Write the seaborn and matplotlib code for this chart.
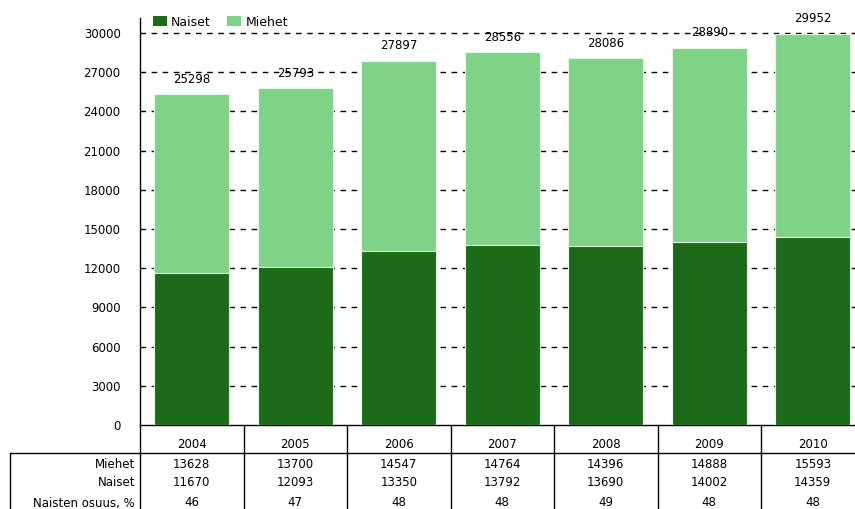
import matplotlib
matplotlib.use("Agg")
import matplotlib.pyplot as plt
import matplotlib.transforms as mtrans
from matplotlib.lines import Line2D
from matplotlib.patches import Patch
import seaborn as sns
import pandas as pd

years = ["2004", "2005", "2006", "2007", "2008", "2009", "2010"]
miehet = [13628, 13700, 14547, 14764, 14396, 14888, 15593]
naiset = [11670, 12093, 13350, 13792, 13690, 14002, 14359]
osuus = [46, 47, 48, 48, 49, 48, 48]
yticks = [0, 3000, 6000, 9000, 12000, 15000, 18000, 21000, 24000, 27000, 30000]

df = pd.DataFrame({"year": years, "Naiset": naiset, "Miehet": miehet})
df["total"] = df["Naiset"] + df["Miehet"]

DARK = "#1b6b18"
LIGHT = "#7fd386"

sns.set_style("white")
plt.rcParams["font.family"] = ["DejaVu Sans"]
plt.rcParams["text.color"] = "black"
plt.rcParams["ytick.color"] = "black"
plt.rcParams["xtick.color"] = "black"
plt.rcParams["axes.labelcolor"] = "black"
FS = 8.5

W, H = 855, 509
fig = plt.figure(figsize=(W / 100, H / 100), dpi=100)
fig.patch.set_facecolor("white")
left, right, top, bottom = 140, 864.5, 18, 425
ax = fig.add_axes([left / W, 1 - bottom / H, (right - left) / W, (bottom - top) / H])
ax.set_facecolor("white")

sns.barplot(data=df, x="year", y="total", color=LIGHT, width=0.725, ax=ax,
            saturation=1, edgecolor="#eaf7ea", linewidth=0.8, zorder=3)
sns.barplot(data=df, x="year", y="Naiset", color=DARK, width=0.725, ax=ax,
            saturation=1, edgecolor="#eaf7ea", linewidth=0.8, zorder=3)

ax.set_xlim(-0.5, len(years) - 0.5)
ax.set_ylim(0, 31150)
ax.set_yticks(yticks)
ax.set_yticklabels([str(v) for v in yticks], fontsize=FS, color="black")
ax.set_xticks([])
ax.set_xlabel("")
ax.set_ylabel("")
ax.tick_params(axis="y", length=0, pad=14)
for y in yticks[1:]:
    ax.axhline(y, color="black", lw=1, ls=(0, (4, 4)), zorder=1)
for s in ["top", "right"]:
    ax.spines[s].set_visible(False)
ax.spines["left"].set_color("black")
ax.spines["left"].set_linewidth(1)
ax.spines["bottom"].set_color("black")
ax.spines["bottom"].set_linewidth(1)

for i, t in enumerate(df["total"]):
    ax.annotate(str(t), (i, t), xytext=(0, 6), textcoords="offset points",
                ha="center", va="bottom", fontsize=FS, color="black")

# legend
handles = [Patch(facecolor=DARK, edgecolor="none"), Patch(facecolor=LIGHT, edgecolor="none")]
leg = ax.legend(handles, ["Naiset", "Miehet"], loc="center left",
                bbox_to_anchor=(0.018, (425 - 22) / 407),
                ncol=2, frameon=False, fontsize=FS + 0.5, handlelength=1.1, handleheight=0.9,
                handletextpad=0.35, columnspacing=1.3, borderaxespad=0, borderpad=0)
for t in leg.get_texts():
    t.set_color("black")

# data table below axis
tr = mtrans.blended_transform_factory(ax.transData, fig.transFigure)
def fy(py):
    return 1 - py / H

for i in range(len(years) + 1):
    fig.add_artist(Line2D([i - 0.5, i - 0.5], [fy(425), fy(509)], transform=tr,
                          color="black", lw=1))
fig.add_artist(Line2D([10 / W, 1], [fy(453), fy(453)], transform=fig.transFigure,
                      color="black", lw=1))
fig.add_artist(Line2D([10 / W, 10 / W], [fy(453), fy(509)], transform=fig.transFigure,
                      color="black", lw=1))

for i, yr in enumerate(years):
    fig.text(i, fy(445), yr, transform=tr, ha="center", va="center", fontsize=FS)

rows = [("Miehet", miehet, 465), ("Naiset", naiset, 483), ("Naisten osuus, %", osuus, 503)]
for label, vals, py in rows:
    fig.text(135 / W, fy(py), label, ha="right", va="center", fontsize=FS)
    for i, v in enumerate(vals):
        fig.text(i, fy(py), str(v), transform=tr, ha="center", va="center", fontsize=FS)

fig.savefig("out.png", dpi=100)
